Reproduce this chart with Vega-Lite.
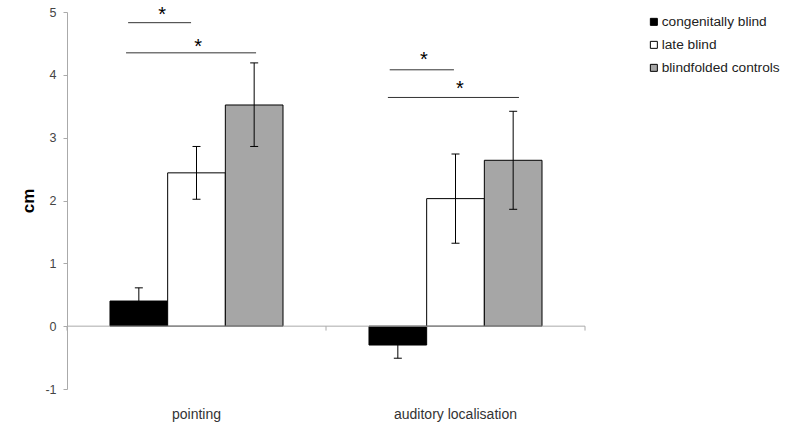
{
  "$schema": "https://vega.github.io/schema/vega-lite/v6.json",
  "width": 518,
  "height": 377,
  "autosize": "none",
  "padding": {"left": 67, "top": 12, "right": 202, "bottom": 36},
  "background": "white",
  "config": {
    "view": {"stroke": null},
    "font": "Liberation Sans",
    "axisY": {
      "grid": false,
      "domainColor": "#aaaaaa",
      "tickColor": "#aaaaaa",
      "tickSize": 4,
      "labelPadding": 7,
      "labelFontSize": 12.5,
      "labelColor": "#444444",
      "titleFontSize": 17,
      "titleFontWeight": "bold",
      "titleColor": "#000000",
      "titlePadding": 7
    }
  },
  "datasets": {
    "bars": [
      {"group": "pointing", "cond": "congenitally blind", "value": 0.40, "lo": 0.20, "hi": 0.61},
      {"group": "pointing", "cond": "late blind", "value": 2.44, "lo": 2.02, "hi": 2.86},
      {"group": "pointing", "cond": "blindfolded controls", "value": 3.52, "lo": 2.86, "hi": 4.19},
      {"group": "auditory localisation", "cond": "congenitally blind", "value": -0.30, "lo": -0.51, "hi": -0.10},
      {"group": "auditory localisation", "cond": "late blind", "value": 2.03, "lo": 1.32, "hi": 2.74},
      {"group": "auditory localisation", "cond": "blindfolded controls", "value": 2.64, "lo": 1.86, "hi": 3.42}
    ],
    "siglines": [
      {"x0": 0.236, "x1": 0.479, "y": 4.83},
      {"x0": 0.228, "x1": 0.730, "y": 4.35},
      {"x0": 1.246, "x1": 1.494, "y": 4.08},
      {"x0": 1.239, "x1": 1.745, "y": 3.64}
    ],
    "stars": [
      {"x": 0.367, "y": 5.03, "label": "*"},
      {"x": 0.506, "y": 4.53, "label": "*"},
      {"x": 1.378, "y": 4.32, "label": "*"},
      {"x": 1.517, "y": 3.85, "label": "*"}
    ],
    "xticks": [
      {"x": 0, "y0": 0, "y1": -0.07},
      {"x": 1, "y0": 0, "y1": -0.07},
      {"x": 2, "y0": 0, "y1": -0.07}
    ]
  },
  "resolve": {"scale": {"x": "independent"}},
  "layer": [
    {
      "data": {"name": "bars"},
      "encoding": {
        "x": {
          "field": "group",
          "type": "nominal",
          "sort": ["pointing", "auditory localisation"],
          "scale": {"paddingInner": 0.332, "paddingOuter": 0.166},
          "axis": {"title": null, "domain": false, "ticks": false, "labelPadding": 18, "labelFontSize": 14, "labelColor": "#333333", "labelAngle": 0}
        },
        "xOffset": {
          "field": "cond",
          "type": "nominal",
          "sort": ["congenitally blind", "late blind", "blindfolded controls"],
          "scale": {"paddingInner": 0, "paddingOuter": 0}
        }
      },
      "layer": [
        {
          "mark": {"type": "bar", "stroke": "#000000", "strokeWidth": 1},
          "encoding": {
            "y": {
              "field": "value",
              "type": "quantitative",
              "title": "cm",
              "scale": {"domain": [-1, 5], "nice": false, "zero": false},
              "axis": {"values": [-1, 0, 1, 2, 3, 4, 5], "labelExpr": "datum.value < 0 ? '-' + abs(datum.value) : '' + datum.value"}
            },
            "y2": {"datum": 0},
            "color": {
              "field": "cond",
              "type": "nominal",
              "sort": ["congenitally blind", "late blind", "blindfolded controls"],
              "scale": {"range": ["#000000", "#ffffff", "#a6a6a6"]},
              "legend": {
                "title": null,
                "orient": "none",
                "legendX": 580,
                "legendY": 3,
                "padding": 0,
                "symbolType": "square",
                "symbolSize": 49,
                "symbolStrokeColor": "#000000",
                "symbolStrokeWidth": 1,
                "symbolOpacity": 1,
                "labelFontSize": 13.7,
                "labelColor": "#222222",
                "labelOffset": 1,
                "rowPadding": 8
              }
            }
          }
        },
        {
          "mark": {"type": "rule", "color": "#000000", "strokeWidth": 1},
          "encoding": {
            "y": {"field": "lo", "type": "quantitative", "title": "cm"},
            "y2": {"field": "hi"}
          }
        },
        {
          "mark": {"type": "tick", "color": "#000000", "thickness": 1, "size": 8, "opacity": 1},
          "encoding": {"y": {"field": "hi", "type": "quantitative", "title": "cm"}}
        },
        {
          "mark": {"type": "tick", "color": "#000000", "thickness": 1, "size": 8, "opacity": 1},
          "encoding": {"y": {"field": "lo", "type": "quantitative", "title": "cm"}}
        }
      ]
    },
    {
      "layer": [
        {
          "data": {"values": [{"z": 0}]},
          "mark": {"type": "rule", "color": "#aaaaaa", "strokeWidth": 1},
          "encoding": {"y": {"field": "z", "type": "quantitative", "title": "cm"}}
        },
        {
          "data": {"name": "xticks"},
          "mark": {"type": "rule", "color": "#aaaaaa", "strokeWidth": 1},
          "encoding": {
            "x": {"field": "x", "type": "quantitative", "scale": {"domain": [0, 2], "nice": false, "zero": false}, "axis": null},
            "y": {"field": "y0", "type": "quantitative", "title": "cm"},
            "y2": {"field": "y1"}
          }
        },
        {
          "data": {"name": "siglines"},
          "mark": {"type": "rule", "color": "#333333", "strokeWidth": 1},
          "encoding": {
            "x": {"field": "x0", "type": "quantitative", "axis": null},
            "x2": {"field": "x1"},
            "y": {"field": "y", "type": "quantitative", "title": "cm"}
          }
        },
        {
          "data": {"name": "stars"},
          "mark": {"type": "text", "fontSize": 20, "color": "#000000", "baseline": "middle", "align": "center", "dy": 5},
          "encoding": {
            "x": {"field": "x", "type": "quantitative", "axis": null},
            "y": {"field": "y", "type": "quantitative", "title": "cm"},
            "text": {"field": "label"}
          }
        }
      ]
    }
  ]
}
